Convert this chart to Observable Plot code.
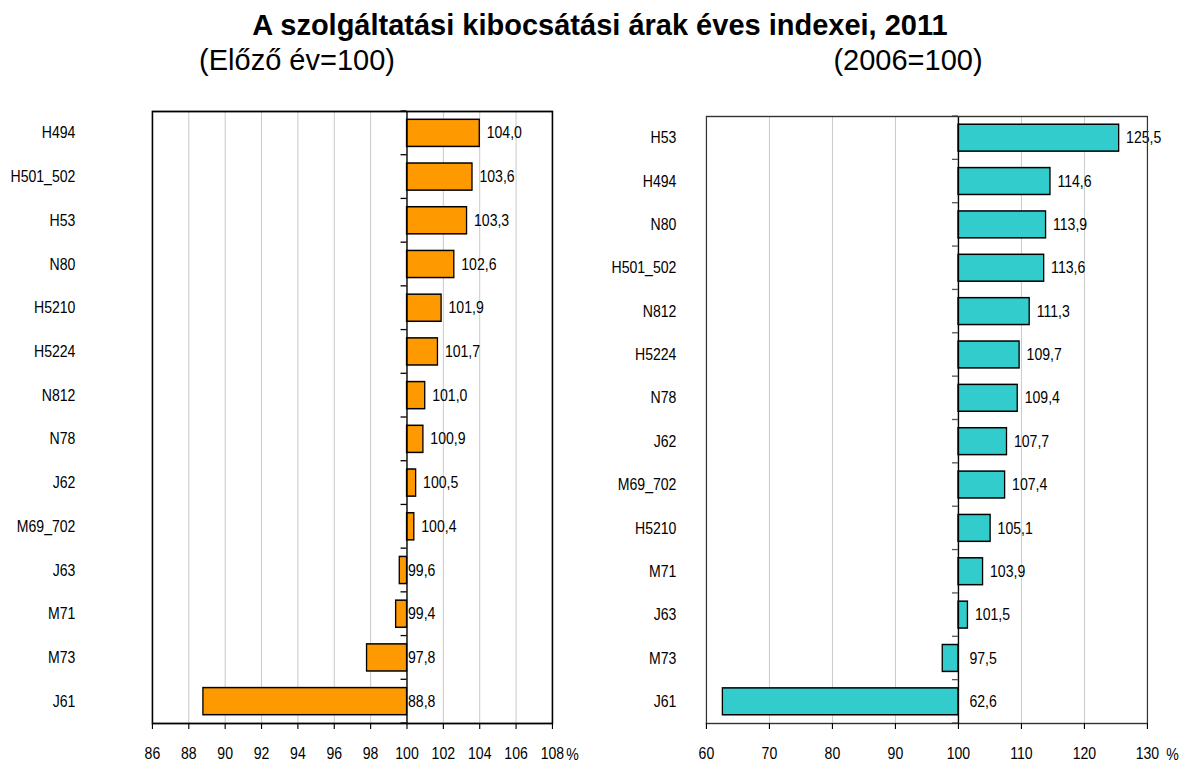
<!DOCTYPE html>
<html>
<head>
<meta charset="utf-8">
<script src="https://cdn.jsdelivr.net/npm/d3@7"></script>
<script src="https://cdn.jsdelivr.net/npm/@observablehq/plot@0.6"></script>
<style>
  html, body { margin: 0; padding: 0; background: #fff; }
  body { width: 1184px; height: 762px; position: relative; overflow: hidden;
         font-family: "Liberation Sans", Arial, sans-serif; color: #000; }
  .t { position: absolute; text-align: center; white-space: nowrap; line-height: 29px; }
  #title { left: 100px; width: 1000px; top: 11px; font-size: 29px; font-weight: bold; }
  #sub1 { left: 47px; width: 500px; top: 46px; font-size: 29px; }
  #sub2 { left: 658px; width: 500px; top: 46px; font-size: 29px; }
  #left { position: absolute; left: 0; top: 100px; }
  #right { position: absolute; left: 592px; top: 100px; }
</style>
</head>
<body>
<div id="title" class="t">A szolgáltatási kibocsátási árak éves indexei, 2011</div>
<div id="sub1" class="t">(Előző év=100)</div>
<div id="sub2" class="t">(2006=100)</div>
<div id="left"></div>
<div id="right"></div>
<script>
// ---- data ----
const leftCats = ["H494","H501_502","H53","N80","H5210","H5224","N812","N78","J62","M69_702","J63","M71","M73","J61"];
const leftVals = [104.0,103.6,103.3,102.6,101.9,101.7,101.0,100.9,100.5,100.4,99.6,99.4,97.8,88.8];
const leftTicks = [86,88,90,92,94,96,98,100,102,104,106,108];

const rightCats = ["H53","H494","N80","H501_502","N812","H5224","N78","J62","M69_702","H5210","M71","J63","M73","J61"];
const rightVals = [125.5,114.6,113.9,113.6,111.3,109.7,109.4,107.7,107.4,105.1,103.9,101.5,97.5,62.6];
const rightTicks = [60,70,80,90,100,110,120,130];

const BASE = 100;
const fmt = v => v.toFixed(1).replace(".", ",");
const S = 0.88;           // horizontal condensing of the small chart text
const PW = 592, PH = 662; // panel size on screen

function boundaryTicks(cats, color, len) {
  return (index, scales) => {
    const x = scales.x, y = scales.y;
    const g = document.createElementNS("http://www.w3.org/2000/svg", "g");
    if (!y || !y.bandwidth) return g;
    const bw = y.bandwidth(), step = y.step();
    const gap = (step - bw) / 2;
    const x0 = x(BASE);
    const ys = cats.map(c => y(c) - gap);
    ys.push(y(cats[cats.length - 1]) + bw + gap);
    for (const yy of ys) {
      const l = document.createElementNS("http://www.w3.org/2000/svg", "line");
      l.setAttribute("x1", x0 - len); l.setAttribute("x2", x0);
      l.setAttribute("y1", yy); l.setAttribute("y2", yy);
      l.setAttribute("stroke", color); l.setAttribute("stroke-width", 1.3);
      g.appendChild(l);
    }
    return g;
  };
}

function panel({cats, vals, ticks, fill, frameColor, frameWidth, tickColor, marginLeft, marginRight, marginTop, yPad, posDx, negDx, pctDx}) {
  const data = cats.map((c, i) => ({c, v: vals[i]}));
  const grid = ticks.filter((t, i) => i > 0 && i < ticks.length - 1 && t !== BASE);
  const lastTick = ticks[ticks.length - 1];
  const frameBottom = 723 - 100;
  const W = PW / S;
  const svg = Plot.plot({
    width: W,
    height: PH,
    marginLeft: marginLeft / S, marginRight: marginRight / S,
    marginTop, marginBottom: PH - frameBottom,
    style: {fontFamily: '"Liberation Sans", Arial, sans-serif', fontSize: "16px", color: "#000", background: "transparent", overflow: "visible"},
    x: {domain: [ticks[0], lastTick], ticks: ticks, label: null},
    y: {domain: cats, paddingInner: 0.38, paddingOuter: 0.19, round: false, label: null},
    marks: [
      Plot.ruleX(grid, {stroke: "#c8c8c8", strokeWidth: 1.1}),
      Plot.barX(data, {y: "c", x1: BASE, x2: "v", fill: fill, stroke: "#000", strokeWidth: 1.5}),
      Plot.ruleX([BASE], {stroke: "#000", strokeWidth: 1.6}),
      boundaryTicks(cats, tickColor, 6 / S),
      Plot.text(data.filter(d => d.v >= BASE), {y: "c", x: "v", text: d => fmt(d.v), textAnchor: "start", dx: posDx / S, fontSize: 16, fill: "#000"}),
      Plot.text(data.filter(d => d.v < BASE), {y: "c", x: () => BASE, text: d => fmt(d.v), textAnchor: "start", dx: negDx / S, fontSize: 16, fill: "#000"}),
      Plot.frame({stroke: frameColor, strokeWidth: frameWidth}),
      Plot.axisX({ticks: ticks, tickSize: 6, tickPadding: 18, fontSize: 16, stroke: "#000", strokeWidth: 1.3, tickFormat: d => String(d)}),
      Plot.axisY({tickSize: 0, tickPadding: yPad / S, fontSize: 16}),
      Plot.text(["%"], {x: () => lastTick, frameAnchor: "bottom", lineAnchor: "middle", dx: pctDx / S, dy: 31, fontSize: 16, fill: "#000"})
    ]
  });
  svg.setAttribute("viewBox", `0 0 ${W} ${PH}`);
  svg.setAttribute("preserveAspectRatio", "none");
  svg.setAttribute("width", PW);
  svg.setAttribute("height", PH);
  svg.style.width = PW + "px";
  svg.style.height = PH + "px";
  svg.style.maxWidth = "none";
  return svg;
}

document.getElementById("left").appendChild(panel({
  cats: leftCats, vals: leftVals, ticks: leftTicks, fill: "#FF9900",
  frameColor: "#000", frameWidth: 1.8, tickColor: "#000",
  marginLeft: 152, marginRight: 40, marginTop: 11, yPad: 77,
  posDx: 7, negDx: 1, pctDx: 20
}));
document.getElementById("right").appendChild(panel({
  cats: rightCats, vals: rightVals, ticks: rightTicks, fill: "#33CCCC",
  frameColor: "#333", frameWidth: 1.4, tickColor: "#555",
  marginLeft: 114, marginRight: 37, marginTop: 16, yPad: 30,
  posDx: 7, negDx: 11, pctDx: 25
}));
</script>
</body>
</html>
